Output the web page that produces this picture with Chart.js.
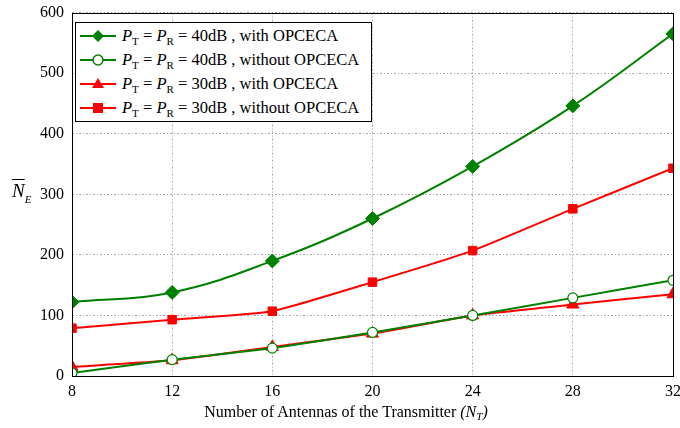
<!DOCTYPE html>
<html>
<head>
<meta charset="utf-8">
<script src="https://cdn.jsdelivr.net/npm/chart.js@4/dist/chart.umd.min.js"></script>
<style>
  html, body { margin:0; padding:0; background:#fff; overflow:hidden; }
  #wrap { position:relative; width:680px; height:428px; overflow:hidden; font-family:"Liberation Serif","Times New Roman",serif; }
  canvas { position:absolute; left:0; top:-5px; }
  #legend { position:absolute; left:75px; top:22px; width:297px; height:100px; box-sizing:border-box; border:1px solid #000; background:#fff; font-size:16.5px; }
  .row { position:absolute; left:0; height:24px; display:flex; align-items:center; white-space:nowrap; }
  .row svg { margin-left:4px; margin-right:6px; }
  .row sub { font-size:11px; vertical-align:-4px; line-height:0; }
  #ytitle { position:absolute; left:12px; top:180px; font-size:19px; }
  #ytitle i.n { text-decoration:overline; }
  #ytitle sub { font-size:11px; vertical-align:-6px; line-height:0; }
  #xtitle { position:absolute; left:0; width:680px; text-align:center; top:403px; font-size:16px; padding-left:12px; box-sizing:border-box; }
  #xtitle sub { font-size:11px; vertical-align:-3px; line-height:0; }
</style>
</head>
<body>
<div id="wrap">
  <canvas id="c" width="687" height="433"></canvas>
  <div id="legend">
    <div class="row" style="top:1px"><svg width="36" height="14"><line x1="0" y1="7" x2="36" y2="7" stroke="#008000" stroke-width="2"/><polygon points="18,1 24,7 18,13 12,7" fill="#008000"/></svg><span><i>P</i><sub>T</sub> = <i>P</i><sub>R</sub> = 40dB , with OPCECA</span></div>
    <div class="row" style="top:25px"><svg width="36" height="14"><line x1="0" y1="7" x2="36" y2="7" stroke="#008000" stroke-width="2"/><circle cx="18" cy="7" r="5" fill="#fff" stroke="#008000" stroke-width="1.5"/></svg><span><i>P</i><sub>T</sub> = <i>P</i><sub>R</sub> = 40dB , without OPCECA</span></div>
    <div class="row" style="top:49px"><svg width="36" height="14"><line x1="0" y1="7" x2="36" y2="7" stroke="#ff0000" stroke-width="2"/><polygon points="18,1 24,11 12,11" fill="#ff0000"/></svg><span><i>P</i><sub>T</sub> = <i>P</i><sub>R</sub> = 30dB , with OPCECA</span></div>
    <div class="row" style="top:73px"><svg width="36" height="14"><line x1="0" y1="7" x2="36" y2="7" stroke="#ff0000" stroke-width="2"/><rect x="13" y="2" width="10" height="10" fill="#ff0000"/></svg><span><i>P</i><sub>T</sub> = <i>P</i><sub>R</sub> = 30dB , without OPCECA</span></div>
  </div>
  <div id="ytitle"><i class="n">N</i><sub><i>E</i></sub></div>
  <div id="xtitle">Number of Antennas of the Transmitter <i>(N<sub>T</sub>)</i></div>
</div>
<script>
const antennas = [8, 12, 16, 20, 24, 28, 32];
const p40With = [122, 138, 190, 260, 346, 446, 565];
const p40Without = [5, 27, 46, 72, 100, 129, 158];
const p30With = [15, 26, 48, 70, 100, 118, 135];
const p30Without = [79, 93, 107, 155, 207, 276, 343];
const yTicks = [0, 100, 200, 300, 400, 500, 600];

const GREEN = '#008000', RED = '#ff0000';
const toXY = arr => arr.map((v, i) => ({x: antennas[i], y: v}));

const framePlugin = {
  id: 'frame',
  afterDraw(chart) {
    const a = chart.chartArea, ctx = chart.ctx;
    ctx.save();
    ctx.strokeStyle = '#000';
    ctx.lineWidth = 1;
    ctx.strokeRect(Math.round(a.left) + 0.5, Math.round(a.top) + 0.5, Math.round(a.right - a.left), Math.round(a.bottom - a.top));
    ctx.restore();
  }
};

const gridCfg = { color: '#a8a8a8', lineWidth: 1, drawTicks: false };
const tickFont = { family: '"Liberation Serif","Times New Roman",serif', size: 16 };

new Chart(document.getElementById('c'), {
  type: 'line',
  data: {
    datasets: [
      { data: toXY(p40With), borderColor: GREEN, backgroundColor: GREEN, borderWidth: 2, pointStyle: 'rectRot', pointRadius: 7, pointBorderWidth: 1, tension: 0.4 },
      { data: toXY(p40Without), borderColor: GREEN, backgroundColor: '#fff', pointBackgroundColor: '#fff', borderWidth: 2, pointStyle: 'circle', pointRadius: 5, pointBorderWidth: 1.2, tension: 0.15 },
      { data: toXY(p30With), borderColor: RED, backgroundColor: RED, borderWidth: 2, pointStyle: 'triangle', pointRadius: 7, pointBorderWidth: 1, tension: 0.15 },
      { data: toXY(p30Without), borderColor: RED, backgroundColor: RED, borderWidth: 2, pointStyle: 'rect', pointRadius: 6, pointBorderWidth: 1, tension: 0.15 }
    ]
  },
  options: {
    responsive: false,
    animation: false,
    events: [],
    layout: { padding: { top: 7, right: 0, left: 0, bottom: 0 } },
    plugins: { legend: { display: false }, tooltip: { enabled: false } },
    scales: {
      x: {
        type: 'linear', min: 8, max: 32,
        afterBuildTicks: s => { s.ticks = antennas.map(v => ({value: v})); },
        afterFit: s => { s.height = 52; },
        grid: gridCfg,
        border: { display: false, dash: [2, 2, 1, 2] },
        ticks: { color: '#000', font: tickFont, padding: 6, maxRotation: 0 }
      },
      y: {
        min: 0, max: 600,
        afterBuildTicks: s => { s.ticks = yTicks.map(v => ({value: v})); },
        afterFit: s => { s.width = 72; },
        grid: gridCfg,
        border: { display: false, dash: [2, 2, 1, 2] },
        ticks: { color: '#000', font: tickFont, padding: 8 }
      }
    }
  },
  plugins: [framePlugin]
});
</script>
</body>
</html>
